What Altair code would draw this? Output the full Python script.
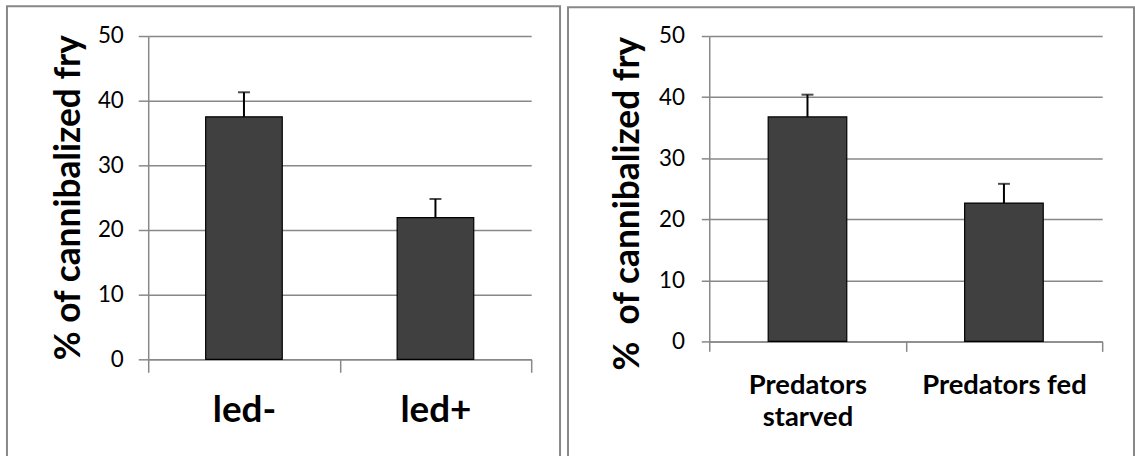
import altair as alt
import pandas as pd

# Left panel: lighting treatment
left_groups = ["led-", "led+"]
left_means = [37.5, 21.9]
left_errors = [3.8, 2.9]

# Right panel: feeding treatment
right_groups = ["Predators starved", "Predators fed"]
right_means = [36.75, 22.65]
right_errors = [3.65, 3.15]

y_ticks = [0, 10, 20, 30, 40, 50]
left_title = "% of cannibalized fry"
right_title = "%\u00a0 of cannibalized fry"

FONT = "Lato"
GRAY = "#888888"


def panel(groups, means, errors, title, width, height, frame,
          x_label_size, x_label_pad, x_tick_size, y_tick_size, y_label_pad,
          title_x, title_y, label_expr=None):
    df = pd.DataFrame({
        "group": groups,
        "mean": means,
        "top": [m + e for m, e in zip(means, errors)],
    })
    x_axis = dict(
        title=None, labelAngle=0, tickBand="extent", tickSize=x_tick_size,
        tickColor=GRAY, tickWidth=1.5, domainColor=GRAY, domainWidth=1.5,
        labelFont=FONT, labelFontWeight="bold", labelFontSize=x_label_size,
        labelColor="black", labelPadding=x_label_pad, labelLimit=400,
        labelLineHeight=33, grid=False,
    )
    if label_expr:
        x_axis["labelExpr"] = label_expr
    x = alt.X("group:N", sort=groups,
              scale=alt.Scale(paddingInner=0, paddingOuter=0),
              axis=alt.Axis(**x_axis))
    y_scale = alt.Scale(domain=[0, 50], nice=False)
    y_axis = alt.Axis(
        values=y_ticks, title=title, grid=True, gridColor=GRAY, gridWidth=1.5,
        domainColor=GRAY, domainWidth=1.5, tickColor=GRAY, tickWidth=1.5,
        tickSize=y_tick_size, labelFont=FONT, labelFontSize=22.5,
        labelColor="black", labelPadding=y_label_pad,
        titleFont=FONT, titleFontSize=35.5, titleFontWeight="bold",
        titleColor="black", titleX=title_x, titleY=title_y,
    )
    base = alt.Chart(df)
    bars = base.mark_bar(width={"band": 0.4}, color="#404040",
                         stroke="black", strokeWidth=1.2).encode(
        x=x, y=alt.Y("mean:Q", scale=y_scale, axis=y_axis))
    err = base.mark_rule(color="black", strokeWidth=2).encode(
        x=alt.X("group:N", sort=groups), y="mean:Q", y2="top:Q")
    cap = base.mark_tick(color="black", size=12, thickness=2).encode(
        x=alt.X("group:N", sort=groups), y="top:Q")
    box = alt.Chart(pd.DataFrame({"frame": [0]})).mark_rect(
        fill="white", fillOpacity=0, stroke=GRAY, strokeWidth=2).encode(
        x=alt.value(frame[0]), x2=alt.value(frame[1]),
        y=alt.value(frame[2]), y2=alt.value(frame[3]))
    return alt.layer(bars, err, cap, box).properties(width=width, height=height)


left = panel(left_groups, left_means, left_errors, left_title, 385, 325,
             (-142, 414, -30, 425), 37, 21, 13, 10, 15, -62, 162)
right = panel(right_groups, right_means, right_errors, right_title, 395, 307,
              (-142, 427, -29, 426), 27.5, 20, 10, 8, 17, -64, 168,
              label_expr="datum.label == 'Predators starved' ? ['Predators', 'starved'] : datum.label")

chart = alt.hconcat(left, right, spacing=6).properties(
    padding={"left": 6, "top": 4, "right": 0, "bottom": 0},
    background="white",
).configure_view(strokeWidth=0)

chart.save("out.html", embed_options={"renderer": "svg", "actions": False})
